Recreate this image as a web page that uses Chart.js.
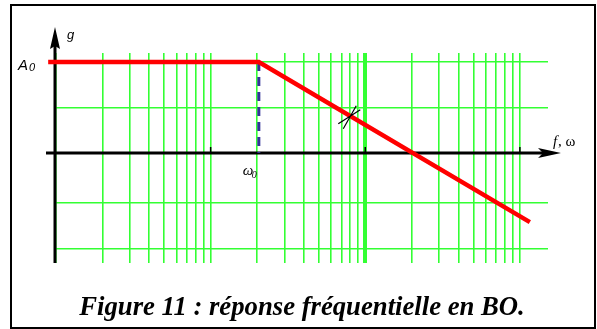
<!DOCTYPE html>
<html>
<head>
<meta charset="utf-8">
<script src="https://cdn.jsdelivr.net/npm/chart.js@4.4.1/dist/chart.umd.min.js"></script>
<style>
  html, body { margin: 0; padding: 0; background: #fff; }
  canvas { display: block; }
</style>
</head>
<body>
<canvas id="bode" width="597" height="329"></canvas>
<script>
// Diagramme de Bode asymptotique (gain), abscisse logarithmique
const gridFreqs = [1, 2, 3, 4, 5, 6, 7, 8, 9, 10, 20, 30, 40, 50, 60, 70, 80, 90, 100,
                   200, 300, 400, 500, 600, 700, 800, 900, 1000];
const gridGains = [-2.1, -1.1, 0, 1, 2];
const axisTicks = [10, 100, 1000];
const omega0 = 20.5;            // pulsation de cassure
const A0 = 2;                   // gain statique
const asymptoteX = [0.89, omega0, 1160];
const asymptoteY = [A0, A0, -1.52];
const dashX = [omega0, omega0];
const dashY = [A0, 0];
const slopeMarkX = 80;
const caption = 'Figure 11 : réponse fréquentielle en BO.';

const toPoints = (xs, ys) => xs.map((v, i) => ({ x: v, y: ys[i] }));

const decor = {
    id: 'decor',
    beforeDatasetsDraw(chart) {
        const { ctx, scales: { x, y } } = chart;
        const x0 = x.getPixelForValue(1) - 1;
        const y0 = y.getPixelForValue(0);
        ctx.save();
        ctx.strokeStyle = '#000';
        ctx.fillStyle = '#000';
        ctx.lineWidth = 3;
        // axe des fréquences
        ctx.beginPath();
        ctx.moveTo(46, y0);
        ctx.lineTo(545, y0);
        ctx.stroke();
        ctx.beginPath();
        ctx.moveTo(561, y0);
        ctx.lineTo(538, y0 - 5);
        ctx.lineTo(543, y0);
        ctx.lineTo(538, y0 + 5);
        ctx.closePath();
        ctx.fill();
        // axe du gain
        ctx.beginPath();
        ctx.moveTo(x0, y.bottom);
        ctx.lineTo(x0, 45);
        ctx.stroke();
        ctx.beginPath();
        ctx.moveTo(x0, 27);
        ctx.lineTo(x0 - 5, 49);
        ctx.lineTo(x0, 46);
        ctx.lineTo(x0 + 5, 49);
        ctx.closePath();
        ctx.fill();
        // petites graduations
        ctx.lineWidth = 1.5;
        ctx.beginPath();
        axisTicks.forEach(v => {
            const px = x.getPixelForValue(v);
            ctx.moveTo(px, y0 - 6);
            ctx.lineTo(px, y0);
        });
        ctx.stroke();
        ctx.restore();
    },
    afterDraw(chart) {
        const { ctx, scales: { x, y } } = chart;
        ctx.save();
        ctx.fillStyle = '#000';
        ctx.strokeStyle = '#000';

        // cadre
        ctx.lineWidth = 2;
        ctx.strokeRect(11, 5, 584, 323);

        // marque de pente
        const mx = x.getPixelForValue(slopeMarkX);
        const my = y.getPixelForValue(A0 - 2 * Math.log10(slopeMarkX / omega0));
        ctx.lineWidth = 1.2;
        ctx.beginPath();
        ctx.moveTo(mx - 12, my + 8);
        ctx.lineTo(mx + 10, my - 6);
        ctx.moveTo(mx - 7, my + 13);
        ctx.lineTo(mx + 6, my - 10);
        ctx.stroke();

        // étiquettes
        ctx.textAlign = 'left';
        ctx.textBaseline = 'alphabetic';
        ctx.font = 'italic 13px "Liberation Sans"';
        ctx.fillText('g', 67, 39);

        const yA = y.getPixelForValue(A0);
        ctx.font = 'italic 15px "Liberation Sans"';
        ctx.fillText('A', 18, yA + 8);
        ctx.font = 'italic 11px "Liberation Sans"';
        ctx.fillText('0', 29, yA + 9);

        const y0 = y.getPixelForValue(0);
        ctx.font = 'italic 15px "Liberation Serif"';
        ctx.fillText('f', 553, y0 - 7);
        ctx.font = '15px "Liberation Serif"';
        ctx.fillText(', ω', 558, y0 - 7);

        const xw = x.getPixelForValue(omega0);
        ctx.font = 'italic 15px "Liberation Serif"';
        ctx.fillText('ω', xw - 16, y0 + 22);
        ctx.font = 'italic 10px "Liberation Serif"';
        ctx.fillText('0', xw - 7, y0 + 25);

        // légende de la figure
        ctx.textAlign = 'center';
        ctx.font = 'bold italic 26.7px "Liberation Serif"';
        ctx.fillText(caption, 302, 315);
        ctx.restore();
    }
};

const ctx = document.getElementById('bode').getContext('2d');
const bodeChart = new Chart(ctx, {
    type: 'scatter',
    data: {
        datasets: [{
            data: toPoints(asymptoteX, asymptoteY),
            showLine: true,
            borderColor: '#ff0000',
            borderWidth: 4.5,
            pointRadius: 0,
            tension: 0,
            clip: false,
            order: 1
        }, {
            data: toPoints(dashX, dashY),
            showLine: true,
            borderColor: '#333399',
            borderWidth: 3,
            borderDash: [9, 6],
            pointRadius: 0,
            order: 2
        }]
    },
    options: {
        responsive: false,
        animation: false,
        layout: { padding: { left: 56, right: 49, top: 53, bottom: 66 } },
        plugins: {
            legend: { display: false },
            tooltip: { enabled: false }
        },
        scales: {
            x: {
                type: 'logarithmic',
                min: 1,
                max: 1520,
                afterBuildTicks: s => { s.ticks = gridFreqs.map(v => ({ value: v })); },
                ticks: { display: false },
                border: { display: false },
                grid: {
                    drawTicks: false,
                    color: '#33ff33',
                    lineWidth: c => (c.tick && c.tick.value === 100 ? 4 : 1.6)
                }
            },
            y: {
                min: -2.418,
                max: 2.198,
                afterBuildTicks: s => { s.ticks = gridGains.map(v => ({ value: v })); },
                ticks: { display: false },
                border: { display: false },
                grid: { drawTicks: false, color: '#33ff33', lineWidth: 1.6 }
            }
        }
    },
    plugins: [decor]
});
</script>
</body>
</html>
